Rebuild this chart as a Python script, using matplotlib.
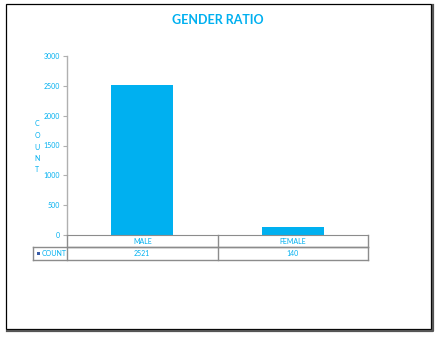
import matplotlib.pyplot as plt
import matplotlib.transforms as mtransforms
from matplotlib.patches import Rectangle
from matplotlib.lines import Line2D

plt.rcParams['font.family'] = ['Lato', 'DejaVu Sans']

categories = ['MALE', 'FEMALE']
counts = [2521, 140]
series_name = 'COUNT'
yticks = [0, 500, 1000, 1500, 2000, 2500, 3000]
ytick_labels = ['0', '500', '1000', '1500', '2000', '2500', '3000']

blue = '#00B0F0'
grey = '#8c8c8c'

W, H = 441, 339
fig = plt.figure(figsize=(W / 100, H / 100), dpi=100)

# outer chart frame, shadow on right/bottom
fig.add_artist(Line2D([433 / W, 433 / W, 7 / W], [1 - 5 / H, 1 - 331 / H, 1 - 331 / H],
                      transform=fig.transFigure, color='#555555', lw=1.6))
fig.add_artist(Rectangle((6 / W, 1 - 329 / H), 425 / W, 325 / H, transform=fig.transFigure,
                         fill=False, edgecolor='black', lw=0.9))

ax = fig.add_axes([67 / W, 1 - 235 / H, 301 / W, 179 / H])
x = list(range(len(categories)))
ax.bar(x, counts, width=0.41, color=blue, zorder=2)
ax.set_xlim(-0.5, len(categories) - 0.5)
ax.set_ylim(0, 3000)
ax.set_yticks(yticks)
ax.set_yticklabels(ytick_labels)
ax.set_xticks([])
for s in ['top', 'right']:
    ax.spines[s].set_visible(False)
ax.spines['left'].set_color('#b0b0b0')
ax.spines['bottom'].set_color(grey)
ax.spines['left'].set_linewidth(1)
ax.tick_params(axis='y', colors='#b0b0b0', labelcolor=blue, labelsize=5, length=3, width=0.8, pad=2)

fig.text(218 / W, 1 - 20 / H, 'GENDER RATIO', ha='center', va='center', color=blue,
         fontsize=9, fontweight='bold')
fig.text(37 / W, 1 - 147 / H, '\n'.join('COUNT'), ha='center', va='center', color=blue,
         fontsize=5, linespacing=1.75)

# data table under the axis
tr = mtransforms.blended_transform_factory(ax.transData, ax.transAxes)
r1 = -12 / 179
r2 = -25 / 179
left_col = -0.5 - 34 / 150.5
n = len(categories)
lines = [
    ([-0.5, n - 0.5], [r1, r1]),
    ([left_col, n - 0.5], [r1 + 0.002, r1 + 0.002]),
    ([left_col, n - 0.5], [r2, r2]),
    ([left_col, left_col], [r1, r2]),
]
for b in range(n + 1):
    lines.append(([b - 0.5, b - 0.5], [0, r2]))
for xs, ys in lines:
    ax.add_artist(Line2D(xs, ys, transform=tr, color=grey, lw=1, clip_on=False))

for i, (c, v) in enumerate(zip(categories, counts)):
    ax.text(i, r1 / 2, c, transform=tr, ha='center', va='center', color=blue, fontsize=5)
    ax.text(i, (r1 + r2) / 2, str(v), transform=tr, ha='center', va='center', color=blue, fontsize=5)

ax.add_artist(Rectangle((left_col + 0.025, (r1 + r2) / 2 - 0.009), 0.022, 0.018, transform=tr,
                        facecolor='#3a5da8', edgecolor='none', clip_on=False))
ax.text(left_col + 0.06, (r1 + r2) / 2, series_name, transform=tr, ha='left', va='center',
        color=blue, fontsize=5)

fig.savefig('out.png', dpi=100)
